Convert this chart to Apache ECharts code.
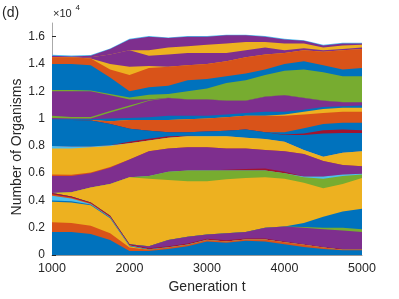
<!DOCTYPE html>
<html><head><meta charset="utf-8">
<script src="https://cdn.jsdelivr.net/npm/echarts@6/dist/echarts.min.js"></script>
<style>html,body{margin:0;padding:0;background:#fff}#c{width:399px;height:299px}</style>
</head><body><div id="c"></div>
<script>
// Generations sampled
var generations = [1000,1250,1500,1750,2000,2250,2500,2750,3000,3250,3500,3750,4000,4250,4500,4750,5000];
var xTicks = [1000,2000,3000,4000,5000];
var yTicks = [0,0.2,0.4,0.6,0.8,1.0,1.2,1.4,1.6];
// Cumulative upper boundary of each lineage band (units of 10^4 organisms), bottom to top
var bandBlue1    = [0.17,0.17,0.155,0.11,0.03,0.03,0.045,0.065,0.10,0.09,0.105,0.10,0.08,0.06,0.045,0.035,0.035];
var bandOrange1  = [0.24,0.235,0.215,0.16,0.055,0.04,0.055,0.075,0.11,0.10,0.115,0.115,0.095,0.075,0.055,0.04,0.04];
var bandYellow1  = [0.39,0.385,0.365,0.27,0.065,0.04,0.055,0.075,0.11,0.10,0.115,0.115,0.095,0.075,0.055,0.04,0.04];
var bandBlue2    = [0.40,0.395,0.37,0.275,0.068,0.042,0.057,0.077,0.112,0.10,0.115,0.115,0.095,0.075,0.055,0.04,0.04];
var bandCyan1    = [0.435,0.415,0.375,0.278,0.07,0.042,0.057,0.077,0.112,0.10,0.115,0.115,0.095,0.075,0.055,0.04,0.04];
var bandOrange2  = [0.445,0.422,0.38,0.28,0.072,0.042,0.057,0.077,0.112,0.10,0.115,0.115,0.095,0.075,0.055,0.04,0.04];
var bandRed1     = [0.455,0.43,0.385,0.288,0.08,0.05,0.065,0.085,0.12,0.108,0.122,0.122,0.10,0.08,0.06,0.045,0.045];
var bandPurple1  = [0.455,0.43,0.385,0.288,0.08,0.065,0.11,0.135,0.15,0.16,0.17,0.20,0.21,0.20,0.19,0.18,0.17];
var bandGreen1   = [0.455,0.43,0.385,0.288,0.08,0.065,0.11,0.135,0.15,0.16,0.17,0.20,0.21,0.205,0.20,0.20,0.19];
var bandBlue3    = [0.455,0.43,0.385,0.288,0.08,0.065,0.11,0.135,0.15,0.16,0.17,0.20,0.21,0.235,0.28,0.32,0.34];
var bandYellow2  = [0.455,0.46,0.495,0.52,0.57,0.56,0.55,0.54,0.54,0.555,0.565,0.57,0.56,0.53,0.49,0.52,0.565];
var bandGreen2   = [0.455,0.46,0.495,0.52,0.57,0.58,0.61,0.62,0.62,0.62,0.62,0.62,0.60,0.57,0.56,0.58,0.59];
var bandCyan2    = [0.455,0.46,0.495,0.52,0.57,0.58,0.61,0.62,0.62,0.62,0.62,0.62,0.60,0.575,0.575,0.59,0.595];
var bandRed2     = [0.455,0.46,0.495,0.52,0.57,0.58,0.61,0.62,0.62,0.625,0.63,0.635,0.61,0.575,0.575,0.59,0.595];
var bandPurple2  = [0.58,0.58,0.60,0.64,0.70,0.76,0.78,0.79,0.79,0.78,0.78,0.77,0.76,0.74,0.69,0.66,0.65];
var bandOrange3  = [0.59,0.588,0.605,0.645,0.70,0.76,0.78,0.79,0.79,0.78,0.78,0.77,0.76,0.74,0.69,0.66,0.65];
var bandYellow3  = [0.78,0.78,0.79,0.80,0.82,0.84,0.86,0.87,0.87,0.87,0.86,0.85,0.83,0.77,0.72,0.75,0.76];
var bandCyan3    = [0.80,0.795,0.795,0.805,0.82,0.84,0.86,0.87,0.87,0.87,0.86,0.85,0.83,0.77,0.72,0.75,0.76];
var bandRed3     = [0.80,0.795,0.795,0.805,0.83,0.852,0.87,0.875,0.87,0.87,0.86,0.85,0.83,0.77,0.72,0.75,0.76];
var bandBlue4    = [0.99,0.99,0.985,0.96,0.925,0.91,0.90,0.90,0.905,0.91,0.92,0.90,0.88,0.88,0.89,0.895,0.895];
var bandRed4     = [0.99,0.99,0.985,0.96,0.925,0.91,0.90,0.90,0.905,0.91,0.92,0.90,0.883,0.89,0.915,0.92,0.915];
var bandBlue5    = [0.99,0.99,0.985,0.96,0.925,0.91,0.90,0.90,0.905,0.91,0.92,0.90,0.90,0.93,0.96,0.97,0.97];
var bandOrange4  = [0.99,0.99,0.99,0.98,0.99,0.99,0.99,0.995,1.0,1.01,1.02,1.02,1.02,1.03,1.04,1.05,1.05];
var bandYellow4  = [0.99,0.99,0.99,0.98,0.99,0.99,0.99,0.995,1.0,1.01,1.02,1.02,1.03,1.05,1.07,1.08,1.08];
var bandBlue6    = [0.995,0.995,0.995,1.0,1.005,1.01,1.02,1.02,1.02,1.03,1.04,1.05,1.05,1.065,1.085,1.09,1.095];
var bandPurple3  = [1.005,1.0,1.0,1.045,1.085,1.13,1.15,1.14,1.14,1.13,1.13,1.16,1.17,1.15,1.13,1.12,1.12];
var bandGreen3   = [1.02,1.012,1.012,1.055,1.095,1.135,1.152,1.142,1.142,1.132,1.132,1.162,1.172,1.152,1.132,1.122,1.122];
var bandPurple4  = [1.20,1.20,1.20,1.17,1.14,1.14,1.152,1.142,1.142,1.132,1.132,1.162,1.172,1.152,1.132,1.122,1.122];
var bandGreen4   = [1.21,1.21,1.205,1.18,1.155,1.175,1.18,1.20,1.22,1.26,1.28,1.32,1.35,1.36,1.34,1.31,1.31];
var bandBlue7    = [1.40,1.40,1.39,1.30,1.20,1.23,1.24,1.28,1.29,1.31,1.33,1.36,1.40,1.42,1.39,1.36,1.37];
var bandOrange5  = [1.45,1.45,1.44,1.36,1.32,1.37,1.38,1.39,1.40,1.42,1.45,1.47,1.48,1.50,1.49,1.50,1.51];
var bandYellow5  = [1.45,1.45,1.44,1.40,1.38,1.385,1.38,1.39,1.40,1.42,1.45,1.47,1.48,1.50,1.49,1.50,1.51];
var bandPurple5  = [1.45,1.45,1.45,1.47,1.50,1.46,1.47,1.48,1.48,1.48,1.50,1.52,1.50,1.515,1.50,1.51,1.52];
var bandYellow6  = [1.45,1.45,1.45,1.47,1.50,1.50,1.52,1.53,1.54,1.55,1.56,1.56,1.55,1.55,1.52,1.535,1.54];
var bandPurple6  = [1.46,1.455,1.46,1.51,1.58,1.60,1.59,1.60,1.60,1.61,1.61,1.60,1.58,1.57,1.535,1.55,1.55];
var bandCyan4    = [1.468,1.462,1.466,1.514,1.584,1.604,1.594,1.604,1.604,1.614,1.614,1.604,1.584,1.574,1.54,1.555,1.555];

var C = {blue:'#0072BD', orange:'#D95319', yellow:'#EDB120', purple:'#7E2F8E', green:'#77AC30', cyan:'#4DBEEE', red:'#A2142F'};
var bands = [
  [bandBlue1,'blue'],[bandOrange1,'orange'],[bandYellow1,'yellow'],[bandBlue2,'blue'],[bandCyan1,'cyan'],
  [bandOrange2,'orange'],[bandRed1,'red'],[bandPurple1,'purple'],[bandGreen1,'green'],[bandBlue3,'blue'],
  [bandYellow2,'yellow'],[bandGreen2,'green'],[bandCyan2,'cyan'],[bandRed2,'red'],[bandPurple2,'purple'],
  [bandOrange3,'orange'],[bandYellow3,'yellow'],[bandCyan3,'cyan'],[bandRed3,'red'],[bandBlue4,'blue'],
  [bandRed4,'red'],[bandBlue5,'blue'],[bandOrange4,'orange'],[bandYellow4,'yellow'],[bandBlue6,'blue'],
  [bandPurple3,'purple'],[bandGreen3,'green'],[bandPurple4,'purple'],[bandGreen4,'green'],[bandBlue7,'blue'],
  [bandOrange5,'orange'],[bandYellow5,'yellow'],[bandPurple5,'purple'],[bandYellow6,'yellow'],[bandPurple6,'purple'],
  [bandCyan4,'cyan']
];
// painter order: top boundary first, lower bands painted over it
var series = [];
for (var i = bands.length - 1; i >= 0; i--) {
  var arr = bands[i][0];
  series.push({
    type:'line', showSymbol:false, silent:true, smooth:false,
    data: generations.map(function(g,k){ return [g, arr[k]]; }),
    lineStyle:{width:0}, areaStyle:{color:C[bands[i][1]], opacity:1}
  });
}
var font = 'Liberation Sans, Arial, Helvetica, sans-serif';
var chart = echarts.init(document.getElementById('c'), null, {renderer:'canvas'});
chart.setOption({
  animation:false,
  grid:{left:52, right:37, top:23, bottom:38},
  xAxis:{type:'value', min:1000, max:5000, interval:1000,
    name:'Generation t', nameLocation:'middle', nameGap:23,
    nameTextStyle:{fontFamily:font, fontSize:14, color:'#262626'},
    axisLine:{show:true, lineStyle:{color:'#999', width:1}},
    axisTick:{show:false},
    splitLine:{show:false},
    axisLabel:{fontFamily:font, fontSize:12.5, color:'#262626', margin:7, customValues:xTicks,
      formatter:function(v){ return String(Math.round(v)); }}},
  yAxis:{type:'value', min:0, max:1.7,
    axisLine:{show:true, lineStyle:{color:'#aaa', width:1}},
    axisTick:{show:true, inside:true, length:4, lineStyle:{color:'#262626'}, customValues:yTicks},
    splitLine:{show:false},
    axisLabel:{fontFamily:font, fontSize:12, color:'#262626', margin:7, customValues:yTicks,
      formatter:function(v){ return String(+v.toFixed(1)); }}},
  graphic:[
    {type:'text', left:2, top:6, style:{text:'(d)', font:'14px '+font, fill:'#262626'}},
    {type:'text', left:53, top:8, style:{text:'×10', font:'11px '+font, fill:'#262626'}},
    {type:'text', left:75.5, top:4, style:{text:'4', font:'8px '+font, fill:'#262626'}},
    {type:'text', x:17, y:147, rotation:Math.PI/2,
      style:{text:'Number of Organisms', font:'14px '+font, fill:'#262626', align:'center', verticalAlign:'middle'}}
  ],
  series:series
});
</script></body></html>
